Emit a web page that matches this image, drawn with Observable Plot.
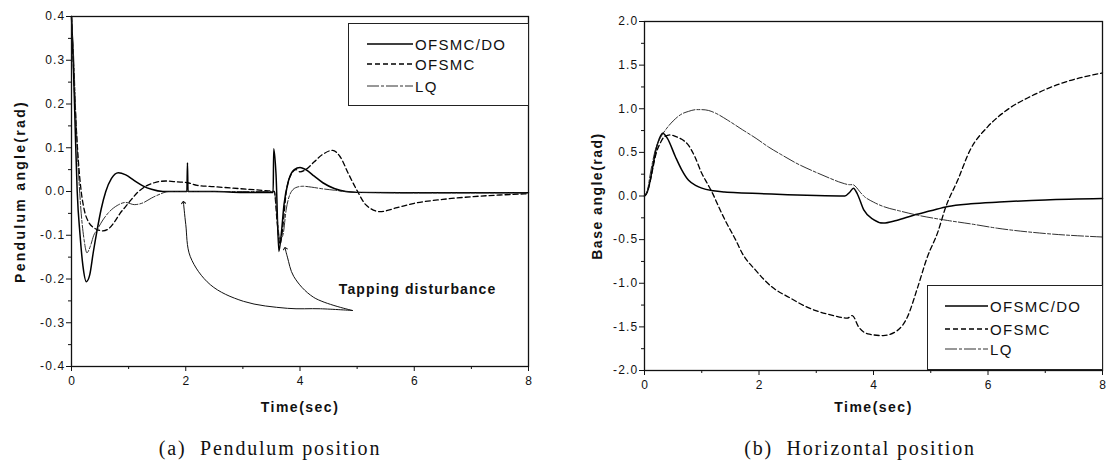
<!DOCTYPE html>
<html><head><meta charset="utf-8">
<script src="https://cdn.jsdelivr.net/npm/d3@7"></script>
<script src="https://cdn.jsdelivr.net/npm/@observablehq/plot@0.6"></script>
<style>
html,body{margin:0;padding:0;background:#fff;}
body{width:1107px;height:465px;overflow:hidden;position:relative;font-family:"Liberation Sans",Arial,sans-serif;}
.panel{position:absolute;top:0;}
.caption{position:absolute;top:437px;width:400px;text-align:center;font-family:"Liberation Serif","Times New Roman",serif;font-size:20px;letter-spacing:1.8px;color:#111;white-space:nowrap;}
.legend{position:absolute;border:1.2px solid #222;background:#fff;box-sizing:border-box;}
.legend .row{position:absolute;left:0;height:20px;display:flex;align-items:center;}
.legend .row span{font-size:15px;letter-spacing:1.3px;color:#111;margin-left:2px;}
</style></head><body>
<div id="left" class="panel" style="left:0"></div>
<div id="right" class="panel" style="left:553px"></div>
<div class="caption" style="left:70px">(a)&nbsp; Pendulum position</div>
<div class="caption" style="left:660px">(b)&nbsp; Horizontal position</div>
<script>
// ---------- data ----------
const seriesNames = ["OFSMC/DO", "OFSMC", "LQ"];
const xTicks = [0, 2, 4, 6, 8];
const xMinorTicks = [1, 3, 5, 7];
const pendYTicks = [-0.4, -0.3, -0.2, -0.1, 0.0, 0.1, 0.2, 0.3, 0.4];
const pendYMinor = [-0.35, -0.25, -0.15, -0.05, 0.05, 0.15, 0.25, 0.35];
const baseYTicks = [-2.0, -1.5, -1.0, -0.5, 0.0, 0.5, 1.0, 1.5, 2.0];
const baseYMinor = [-1.75, -1.25, -0.75, -0.25, 0.25, 0.75, 1.25, 1.75];

// (a) Pendulum angle
const pendDO_t = [0, 0.03, 0.07, 0.1, 0.15, 0.2, 0.26, 0.32, 0.38, 0.45, 0.52, 0.6, 0.7, 0.82, 0.95, 1.1, 1.25, 1.4, 1.6, 1.8, 2.02, 2.03, 2.04, 2.5, 3.0, 3.53, 3.54, 3.58, 3.63, 3.67, 3.72, 3.8, 3.9, 4.0, 4.1, 4.25, 4.4, 4.6, 4.8, 5.0, 6.0, 7.0, 8.0];
const pendDO_v = [0.4, 0.3, 0.12, 0.0, -0.1, -0.17, -0.206, -0.19, -0.14, -0.087, -0.04, 0.0, 0.03, 0.043, 0.038, 0.025, 0.013, 0.005, 0.0, 0.0, 0.0, 0.066, 0.0, 0.0, -0.002, -0.002, 0.098, 0.04, -0.137, -0.1, -0.03, 0.025, 0.05, 0.055, 0.05, 0.035, 0.02, 0.007, 0.0, -0.002, -0.003, -0.003, -0.003];
const pendOF_t = [0, 0.03, 0.07, 0.12, 0.17, 0.22, 0.3, 0.38, 0.45, 0.55, 0.65, 0.75, 0.85, 0.95, 1.05, 1.15, 1.3, 1.45, 1.65, 1.85, 2.03, 2.2, 2.5, 2.8, 3.1, 3.4, 3.55, 3.6, 3.65, 3.7, 3.76, 3.85, 3.93, 4.0, 4.1, 4.25, 4.4, 4.57, 4.7, 4.85, 5.0, 5.15, 5.4, 5.7, 6.0, 6.5, 7.0, 7.5, 8.0];
const pendOF_v = [0.4, 0.3, 0.18, 0.07, 0.0, -0.04, -0.07, -0.082, -0.087, -0.09, -0.085, -0.07, -0.05, -0.034, -0.018, -0.003, 0.012, 0.02, 0.024, 0.022, 0.02, 0.014, 0.011, 0.008, 0.005, 0.002, 0.0, -0.07, -0.12, -0.08, 0.0, 0.04, 0.05, 0.045, 0.05, 0.068, 0.085, 0.094, 0.08, 0.04, 0.002, -0.03, -0.046, -0.037, -0.027, -0.018, -0.012, -0.008, -0.005];
const pendLQ_t = [0, 0.04, 0.08, 0.12, 0.17, 0.22, 0.27, 0.33, 0.39, 0.45, 0.55, 0.65, 0.8, 0.95, 1.1, 1.25, 1.4, 1.55, 1.7, 2.0, 2.5, 3.0, 3.55, 3.6, 3.65, 3.7, 3.76, 3.85, 3.95, 4.05, 4.2, 4.4, 4.6, 4.8, 5.0, 6.0, 7.0, 8.0];
const pendLQ_v = [0.4, 0.3, 0.16, 0.05, -0.05, -0.11, -0.14, -0.125, -0.1, -0.087, -0.065, -0.048, -0.032, -0.025, -0.03, -0.026, -0.015, -0.006, 0.0, 0.0, 0.0, 0.0, 0.0, -0.06, -0.11, -0.1, -0.04, 0.0, 0.01, 0.012, 0.01, 0.006, 0.003, 0.0, -0.002, -0.003, -0.003, -0.003];

// (b) Base angle
const baseDO_t = [0, 0.05, 0.1, 0.15, 0.2, 0.26, 0.32, 0.4, 0.54, 0.65, 0.77, 0.9, 1.0, 1.2, 1.4, 1.7, 2.0, 2.5, 3.0, 3.5, 3.58, 3.65, 3.72, 3.83, 4.0, 4.17, 4.4, 4.7, 5.0, 5.3, 5.7, 6.2, 7.0, 8.0];
const baseDO_v = [0.0, 0.05, 0.18, 0.36, 0.53, 0.66, 0.72, 0.66, 0.45, 0.3, 0.18, 0.12, 0.09, 0.06, 0.045, 0.035, 0.028, 0.015, 0.005, 0.0, 0.04, 0.09, 0.02, -0.16, -0.27, -0.31, -0.28, -0.22, -0.17, -0.12, -0.09, -0.07, -0.045, -0.03];
const baseOF_t = [0, 0.05, 0.1, 0.15, 0.2, 0.27, 0.35, 0.45, 0.55, 0.65, 0.77, 0.88, 1.0, 1.1, 1.19, 1.3, 1.41, 1.59, 1.71, 1.94, 2.24, 2.52, 2.86, 3.3, 3.54, 3.63, 3.74, 3.9, 4.17, 4.42, 4.59, 4.77, 4.94, 5.12, 5.26, 5.47, 5.69, 5.99, 6.34, 6.74, 7.32, 8.0];
const baseOF_v = [0, 0.05, 0.17, 0.33, 0.48, 0.6, 0.68, 0.7, 0.68, 0.65, 0.58, 0.45, 0.26, 0.14, 0.03, -0.13, -0.28, -0.5, -0.66, -0.85, -1.05, -1.16, -1.28, -1.37, -1.4, -1.37, -1.5, -1.58, -1.6, -1.54, -1.39, -1.05, -0.7, -0.42, -0.13, 0.18, 0.53, 0.79, 0.99, 1.14, 1.3, 1.41];
const baseLQ_t = [0, 0.05, 0.1, 0.19, 0.28, 0.37, 0.5, 0.65, 0.77, 0.9, 1.0, 1.12, 1.24, 1.45, 1.71, 1.95, 2.17, 2.4, 2.64, 3.0, 3.25, 3.45, 3.58, 3.64, 3.7, 3.76, 3.83, 4.0, 4.17, 4.45, 4.77, 5.29, 5.7, 6.17, 7.0, 8.0];
const baseLQ_v = [0, 0.06, 0.25, 0.53, 0.67, 0.76, 0.86, 0.94, 0.97, 0.99, 0.99, 0.98, 0.95, 0.87, 0.76, 0.66, 0.56, 0.47, 0.38, 0.27, 0.2, 0.15, 0.13, 0.13, 0.1, 0.05, 0.0, -0.07, -0.12, -0.17, -0.22, -0.28, -0.32, -0.37, -0.43, -0.47];

// annotation (a): "Tapping disturbance" with two arrows, in data units
const tapLabel = "Tapping disturbance";
const tapLabelPos = [4.68, -0.224];
const arrow1_t = [4.92, 4.36, 3.78, 3.01, 2.43, 2.08, 2.0, 1.96];
const arrow1_v = [-0.272, -0.268, -0.267, -0.251, -0.213, -0.149, -0.075, -0.025];
const arrow2_t = [4.92, 4.24, 3.89, 3.78, 3.74];
const arrow2_v = [-0.272, -0.242, -0.194, -0.15, -0.13];

// ---------- helpers ----------
const zip = (t, v) => t.map((d, i) => ({t: d, v: v[i]}));
const styles = [
  {stroke: "#000", strokeWidth: 1.5},
  {stroke: "#000", strokeWidth: 1.3, strokeDasharray: "5,3"},
  {stroke: "#1a1a1a", strokeWidth: 0.9, strokeDasharray: "12,2,3,2"}
];
const fmt = d => Math.abs(d) < 1e-9 ? "0.0" : d.toFixed(1);

function makePanel({width, ml, mr, mt, mb, yDomain, yTicks, yMinor, series, ylabel, ylabelDx, xlabelDy, extra}) {
  return Plot.plot({
    width, height: 425,
    marginLeft: ml, marginRight: mr, marginTop: mt, marginBottom: mb,
    style: {fontFamily: "'Liberation Sans', Arial, sans-serif", fontSize: "12px", color: "#111", background: "#fff"},
    x: {domain: [0, 8]},
    y: {domain: yDomain},
    marks: [
      Plot.axisX({ticks: xTicks, tickSize: 5, tickPadding: 5, tickFormat: d => String(d), label: null, fontSize: 12}),
      Plot.axisX({ticks: xMinorTicks, tickSize: 3, tickFormat: () => "", label: null}),
      Plot.axisY({ticks: yTicks, tickSize: 5, tickPadding: 1, tickFormat: fmt, label: null, fontSize: 12}),
      Plot.axisY({ticks: yMinor, tickSize: 3, tickFormat: () => "", label: null}),
      ...series.map((s, i) => Plot.line(s, {x: "t", y: "v", curve: "monotone-x", ...styles[i]})),
      ...(extra || []),
      Plot.frame({stroke: "#111", strokeWidth: 1.3}),
      Plot.text([ylabel], {frameAnchor: "left", dx: ylabelDx, rotate: -90, textAnchor: "middle", text: d => d, fontWeight: "bold", fontSize: 14}),
      Plot.text(["Time(sec)"], {frameAnchor: "bottom", dy: xlabelDy, textAnchor: "middle", text: d => d, fontWeight: "bold", fontSize: 14})
    ]
  });
}

// letter spacing of the scanned fonts (applied after rendering)
function spaceText(svg, spacings) {
  svg.querySelectorAll("text").forEach(t => {
    const s = t.textContent;
    if (spacings[s] != null) t.style.letterSpacing = spacings[s] + "px";
    else if (/^-?\d\.\d$/.test(s)) t.style.letterSpacing = "1.2px";
  });
}

const leftPlot = makePanel({
  width: 553, ml: 71, mr: 25, mt: 16, mb: 59,
  yDomain: [-0.4, 0.4], yTicks: pendYTicks, yMinor: pendYMinor,
  series: [zip(pendDO_t, pendDO_v), zip(pendOF_t, pendOF_v), zip(pendLQ_t, pendLQ_v)],
  ylabel: "Pendulum angle(rad)", ylabelDx: -51, xlabelDy: 45,
  extra: [
    Plot.line(zip(arrow1_t, arrow1_v), {x: "t", y: "v", curve: "catmull-rom", stroke: "#111", strokeWidth: 1, markerEnd: "arrow"}),
    Plot.line(zip(arrow2_t, arrow2_v), {x: "t", y: "v", curve: "catmull-rom", stroke: "#111", strokeWidth: 1, markerEnd: "arrow"}),
    Plot.text([tapLabel], {x: () => tapLabelPos[0], y: () => tapLabelPos[1], text: d => d, textAnchor: "start", fontWeight: "bold", fontSize: 14})
  ]
});
spaceText(leftPlot, {"Pendulum angle(rad)": 2.3, "Time(sec)": 1.5, [tapLabel]: 1.1});
document.getElementById("left").append(leftPlot);

const rightPlot = makePanel({
  width: 554, ml: 91, mr: 5, mt: 21, mb: 55,
  yDomain: [-2, 2], yTicks: baseYTicks, yMinor: baseYMinor,
  series: [zip(baseDO_t, baseDO_v), zip(baseOF_t, baseOF_v), zip(baseLQ_t, baseLQ_v)],
  ylabel: "Base angle(rad)", ylabelDx: -47, xlabelDy: 41
});
spaceText(rightPlot, {"Base angle(rad)": 1.5, "Time(sec)": 1.5});
document.getElementById("right").append(rightPlot);

// ---------- legends ----------
function legend(left, top, w, h, rowsY, lineX0, lineX1) {
  const box = document.createElement("div");
  box.className = "legend";
  Object.assign(box.style, {left: left + "px", top: top + "px", width: w + "px", height: h + "px"});
  seriesNames.forEach((name, i) => {
    const row = document.createElement("div");
    row.className = "row";
    row.style.top = (rowsY[i] - 10) + "px";
    row.style.left = lineX0 + "px";
    const s = styles[i];
    const len = lineX1 - lineX0;
    row.innerHTML = `<svg width="${len}" height="20"><line x1="0" x2="${len}" y1="10" y2="10" stroke="${s.stroke}" stroke-width="${s.strokeWidth}" ${s.strokeDasharray ? `stroke-dasharray="${s.strokeDasharray}"` : ""}/></svg><span>${name}</span>`;
    box.append(row);
  });
  document.body.append(box);
}
legend(348, 23, 181, 83, [20, 40, 62], 18, 64);
legend(927, 285, 176, 85, [20, 43, 63], 17, 60);
</script>
</body></html>
